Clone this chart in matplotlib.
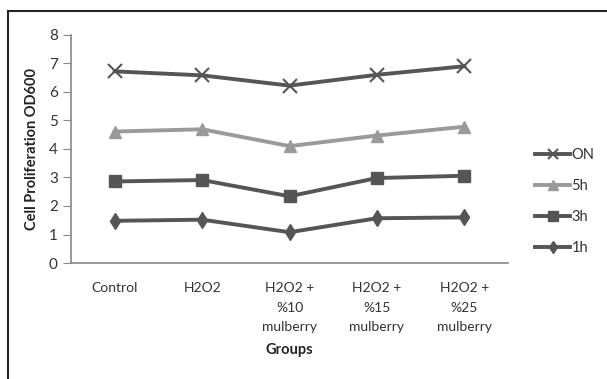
import numpy as np
import matplotlib.pyplot as plt
from matplotlib.patches import Rectangle

groups = ["Control", "H2O2", "H2O2 +\n%10\nmulberry", "H2O2 +\n%15\nmulberry", "H2O2 +\n%25\nmulberry"]
on_vals = [6.72, 6.58, 6.22, 6.60, 6.90]
h5_vals = [4.61, 4.69, 4.10, 4.47, 4.78]
h3_vals = [2.86, 2.91, 2.34, 2.98, 3.06]
h1_vals = [1.48, 1.52, 1.08, 1.57, 1.60]

plt.rcParams['font.family'] = ['Lato', 'DejaVu Sans']

fig = plt.figure(figsize=(6.07, 3.79), dpi=100)
ax = fig.add_axes([0.117, 0.306, 0.720, 0.602])

x = np.arange(len(groups))
dark = "#555555"
light = "#9a9a9a"
ax.plot(x, on_vals, color=dark, lw=2.8, marker="x", ms=10, mew=1.5, label="ON")
ax.plot(x, h5_vals, color=light, lw=2.8, marker="^", ms=9, label="5h")
ax.plot(x, h3_vals, color=dark, lw=2.8, marker="s", ms=9, label="3h")
ax.plot(x, h1_vals, color=dark, lw=2.8, marker="d", ms=8, label="1h")

ax.set_xlim(-0.5, len(groups) - 0.5)
ax.set_ylim(0, 8)
ax.set_yticks(range(0, 9))
ax.set_xticks(x)
ax.set_xticklabels(groups, fontsize=10, color="#333333", linespacing=1.75, va="top")
ax.tick_params(axis="y", labelsize=11, colors="#333333", length=6, color="#888888")
ax.tick_params(axis="x", length=0, pad=14)
for s in ["top", "right"]:
    ax.spines[s].set_visible(False)
ax.spines["left"].set_color("#888888")
ax.spines["bottom"].set_color("#888888")
ax.spines["left"].set_linewidth(1.2)
ax.spines["bottom"].set_linewidth(1.2)

ax.set_ylabel("Cell Proliferation OD600", fontsize=10.5, fontweight="bold", color="#222222", labelpad=7)
ax.set_xlabel("Groups", fontsize=10.5, fontweight="bold", color="#222222", labelpad=7)

fig.legend(loc="center left", bbox_to_anchor=(0.86, 0.468), frameon=False, fontsize=10.5,
           handlelength=2.4, handletextpad=0.1, labelspacing=1.15, markerscale=0.75,
           labelcolor="#333333")

fig.add_artist(Rectangle((8 / 607, -0.1), 1.2, 1 - 11 / 379 + 0.1, transform=fig.transFigure,
                         fill=False, edgecolor="#222222", lw=1.5))

fig.savefig("out.png", dpi=100)
